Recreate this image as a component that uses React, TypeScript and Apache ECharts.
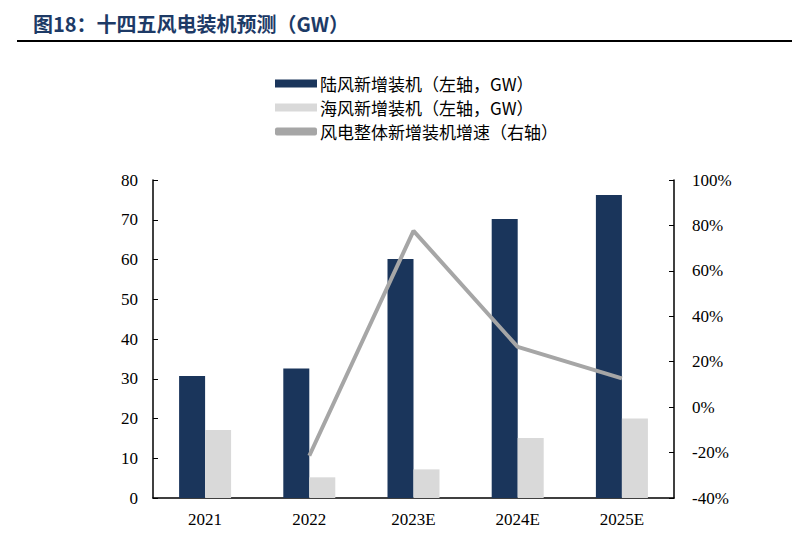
import React, { useEffect, useRef } from "react";
import * as echarts from "echarts";

const categories = ["2021", "2022", "2023E", "2024E", "2025E"];
const onshore = [30.7, 32.6, 60.1, 70.2, 76.2];
const offshore = [17.1, 5.2, 7.2, 15.1, 20.0];
const growth: (number | null)[] = [null, -21.4, 77.6, 26.5, 12.7];

const seriesNames = ["陆风新增装机（左轴，GW）", "海风新增装机（左轴，GW）", "风电整体新增装机增速（右轴）"];
const titleText = "图18：十四五风电装机预测（GW）";

export default function App() {
  const ref = useRef<HTMLDivElement>(null);
  useEffect(() => {
    if (!ref.current) return;
    const chart = echarts.init(ref.current, null, { renderer: "svg" });
    const axisFont = { fontFamily: "Liberation Serif", fontSize: 17, color: "#000" };
    chart.setOption({
      animation: false,
      title: {
        text: titleText,
        left: 20,
        top: 0,
        textStyle: { fontFamily: "Noto Sans CJK SC", fontSize: 20, fontWeight: "bold", color: "#1d3a66" },
      },
      graphic: [
        { type: "rect", shape: { x: 9, y: 32, width: 775, height: 2 }, style: { fill: "#000" } },
      ],
      legend: {
        orient: "vertical",
        left: 262,
        top: 62,
        itemWidth: 42,
        itemHeight: 8,
        itemGap: 7,
        textStyle: { fontFamily: "Noto Sans CJK SC", fontSize: 17, color: "#000", padding: [0, 0, 0, -2] },
        data: [
          { name: seriesNames[0], icon: "rect" },
          { name: seriesNames[1], icon: "rect" },
          { name: seriesNames[2], icon: "roundRect" },
        ],
      },
      grid: { left: 145, right: 118, top: 172, bottom: 45 },
      xAxis: {
        type: "category",
        data: categories,
        axisLine: { lineStyle: { color: "#000", width: 1.5 } },
        axisTick: { inside: true, length: 5, lineStyle: { color: "#000" } },
        axisLabel: { ...axisFont, margin: 13 },
      },
      yAxis: [
        {
          type: "value",
          min: 0,
          max: 80,
          interval: 10,
          splitLine: { show: false },
          axisLine: { show: true, lineStyle: { color: "#000", width: 1.5 } },
          axisTick: { show: true, inside: true, length: 5, lineStyle: { color: "#000" } },
          axisLabel: { ...axisFont, margin: 15 },
        },
        {
          type: "value",
          min: -40,
          max: 100,
          interval: 20,
          position: "right",
          splitLine: { show: false },
          axisLine: { show: true, lineStyle: { color: "#000", width: 1.5 } },
          axisTick: { show: true, inside: true, length: 5, lineStyle: { color: "#000" } },
          axisLabel: { ...axisFont, margin: 18, formatter: "{value}%" },
        },
      ],
      series: [
        {
          name: seriesNames[0],
          type: "bar",
          data: onshore,
          barWidth: 26,
          barGap: "0%",
          itemStyle: { color: "#1a355b" },
        },
        {
          name: seriesNames[1],
          type: "bar",
          data: offshore,
          barWidth: 26,
          barGap: "0%",
          itemStyle: { color: "#d9d9d9" },
        },
        {
          name: seriesNames[2],
          type: "line",
          yAxisIndex: 1,
          data: growth,
          symbol: "none",
          lineStyle: { color: "#a6a6a6", width: 4 },
          itemStyle: { color: "#a6a6a6" },
        },
      ],
    });
    return () => chart.dispose();
  }, []);
  return <div ref={ref} style={{ width: 784, height: 535 }} />;
}
